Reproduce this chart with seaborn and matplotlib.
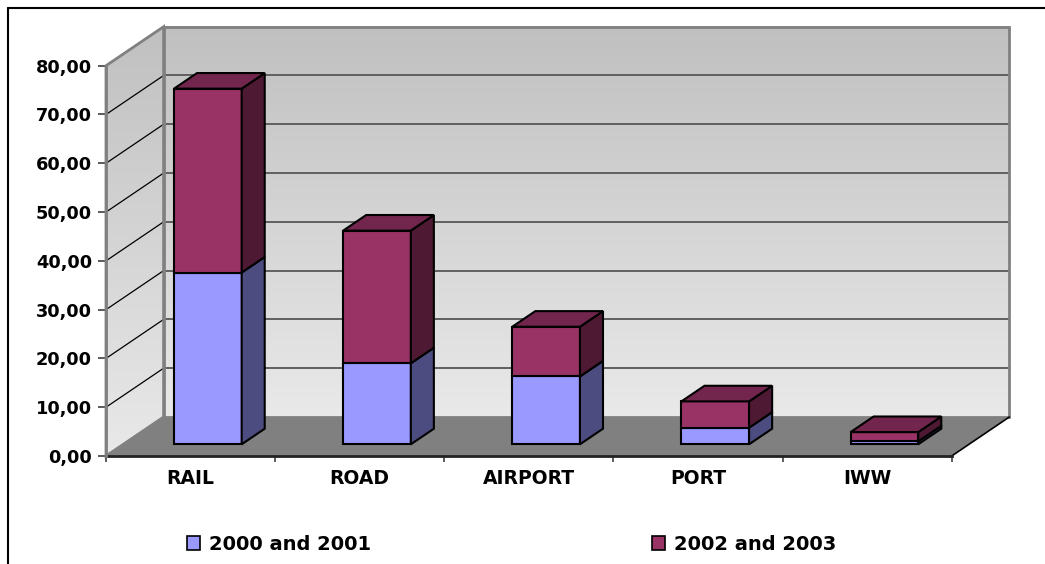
import numpy as np
import pandas as pd
import seaborn as sns
import matplotlib.pyplot as plt
import matplotlib.transforms as mtransforms
from matplotlib.patches import Polygon, Patch
from matplotlib.lines import Line2D
from matplotlib.colors import LinearSegmentedColormap

# data
categories = ["RAIL", "ROAD", "AIRPORT", "PORT", "IWW"]
years_2000_2001 = [35.2, 16.6, 13.9, 3.4, 0.6]
years_2002_2003 = [37.7, 27.2, 10.2, 5.4, 1.9]
series_labels = ["2000 and 2001", "2002 and 2003"]
y_ticks = [0, 10, 20, 30, 40, 50, 60, 70, 80]

df = pd.DataFrame({"mode": categories, "p1": years_2000_2001, "p2": years_2002_2003})

sns.set_style("white")
plt.rcParams["font.family"] = ["DejaVu Sans"]
plt.rcParams["font.weight"] = "bold"
plt.rcParams["text.color"] = "black"
plt.rcParams["xtick.labelcolor"] = "black"
plt.rcParams["ytick.labelcolor"] = "black"

W, H = 1045, 564
fig = plt.figure(figsize=(W / 100, H / 100), dpi=100)
ax = fig.add_axes([106 / W, 1 - 456 / H, (951.7 - 106) / W, (456 - 65.7) / H])
ax.patch.set_visible(False)

# 3d depth of the box in pixels, turned into data units
DX, DY = 57.6, 39.0
dxd = DX / (ax.bbox.width / len(categories))
dyd = DY / (ax.bbox.height / 80)
x_lo, x_hi = -0.5, len(categories) - 0.5


def p(x, y, d):
    return (x + d * dxd, y + d * dyd)


# walls with gradient
grad = np.linspace(0, 1, 256).reshape(-1, 1)
wall_cmap = LinearSegmentedColormap.from_list("wall", ["#e9e9e9", "#c0c0c0"])
back = ax.imshow(grad, extent=[x_lo + dxd, x_hi + dxd, dyd, 80 + dyd], origin="lower",
                 aspect="auto", cmap=wall_cmap, zorder=0)
back.set_clip_on(False)

left_poly = Polygon([p(x_lo, 0, 0), p(x_lo, 0, 1), p(x_lo, 80, 1), p(x_lo, 80, 0)],
                    closed=True, transform=ax.transData)
left = ax.imshow(grad, extent=[x_lo, x_lo + dxd, 0, 80 + dyd], origin="lower",
                 aspect="auto", cmap=wall_cmap, zorder=0)
left.set_clip_box(fig.bbox)
left.set_clip_path(left_poly)

# gridlines on back and side wall
for v in y_ticks[1:-1]:
    ax.plot([x_lo + dxd, x_hi + dxd], [v + dyd, v + dyd], color="#606060", lw=1.4,
            zorder=1, clip_on=False)
    ax.plot([x_lo, x_lo + dxd], [v, v + dyd], color="black", lw=0.9, zorder=1, clip_on=False)

# wall outlines
ax.add_patch(Polygon([p(x_lo, 0, 1), p(x_hi, 0, 1), p(x_hi, 80, 1), p(x_lo, 80, 1)],
                     closed=True, fill=False, edgecolor="#808080", lw=2, zorder=1, clip_on=False))
ax.add_patch(Polygon([p(x_lo, 0, 0), p(x_lo, 0, 1), p(x_lo, 80, 1), p(x_lo, 80, 0)],
                     closed=True, fill=False, edgecolor="#808080", lw=2, zorder=1, clip_on=False))

# floor
ax.add_patch(Polygon([p(x_lo, 0, 0), p(x_hi, 0, 0), p(x_hi, 0, 1), p(x_lo, 0, 1)],
                     closed=True, facecolor="#808080", edgecolor="none", zorder=1.5, clip_on=False))
ax.plot(*zip(p(x_hi, 0, 0), p(x_hi, 0, 1)), color="black", lw=1.2, zorder=1.6, clip_on=False)

# stacked bars
colors = ["#9999ff", "#993366"]
sides = ["#4c4c80", "#4d1933"]
tops = ["#7a7acc", "#73264d"]
sns.barplot(data=df, x="mode", y="p1", order=categories, color=colors[0], saturation=1,
            width=0.4, edgecolor="black", linewidth=1.5, zorder=4, ax=ax)
sns.barplot(data=df, x="mode", y="p2", order=categories, color=colors[1], saturation=1,
            bottom=years_2000_2001, width=0.4, edgecolor="black", linewidth=1.5, zorder=4, ax=ax)

d0, d1 = 0.3, 0.7
shift = mtransforms.ScaledTranslation(d0 * DX / fig.dpi, d0 * DY / fig.dpi, fig.dpi_scale_trans)
for k, cont in enumerate(ax.containers[:2]):
    for bar in cont:
        bar.set_transform(ax.transData + shift)
        x0, y0 = bar.get_x(), bar.get_y()
        x1, y1 = x0 + bar.get_width(), y0 + bar.get_height()
        ax.add_patch(Polygon([p(x1, y0, d0), p(x1, y0, d1), p(x1, y1, d1), p(x1, y1, d0)],
                             closed=True, facecolor=sides[k], edgecolor="black", lw=1.5,
                             zorder=4, clip_on=False))
        if k == 1:
            ax.add_patch(Polygon([p(x0, y1, d0), p(x1, y1, d0), p(x1, y1, d1), p(x0, y1, d1)],
                                 closed=True, facecolor=tops[k], edgecolor="black", lw=1.5,
                                 zorder=4, clip_on=False))

ax.set_xlim(x_lo, x_hi)
ax.set_ylim(0, 80)
ax.set_xlabel("")
ax.set_ylabel("")

# axes
ax.set_yticks(y_ticks)
ax.set_yticklabels([f"{v:.2f}".replace(".", ",") for v in y_ticks])
ax.tick_params(axis="y", direction="out", length=5.8, width=1.2, color="#404040",
               pad=4.3, labelsize=12.8, left=True)
ax.set_xticks(range(len(categories)))
ax.set_xticklabels(categories)
ax.set_xticks(np.arange(x_lo, x_hi + 1), minor=True)
ax.tick_params(axis="x", which="major", length=0, pad=9.5, labelsize=13.5)
ax.tick_params(axis="x", which="minor", direction="out", length=4.5, width=1.2,
               color="#404040", bottom=True)
for lab in ax.get_xticklabels() + ax.get_yticklabels():
    lab.set_fontweight("bold")
for s in ["top", "right"]:
    ax.spines[s].set_visible(False)
ax.spines["left"].set_color("#808080")
ax.spines["left"].set_linewidth(2)
ax.spines["bottom"].set_color("#222222")
ax.spines["bottom"].set_linewidth(2)
ax.spines["bottom"].set_zorder(2)

# legend, two entries spread apart
for lbl, col, xpos in zip(series_labels, colors, [186.7, 651.7]):
    fig.legend([Patch(facecolor=col, edgecolor="black", lw=1.2)], [lbl], loc="center left",
               bbox_to_anchor=(xpos / W, 1 - 544 / H), frameon=False, borderpad=0,
               borderaxespad=0, handlelength=0.7, handleheight=0.7, handletextpad=0.45,
               prop={"size": 14, "weight": "bold"})

# chart border (cut by the picture edge on the right and bottom)
fig.add_artist(Line2D([7.5 / W, 7.5 / W], [0, 1 - 8 / H], color="black", lw=1.5))
fig.add_artist(Line2D([7.5 / W, 1], [1 - 8 / H, 1 - 8 / H], color="black", lw=1.5))

fig.savefig("out.png", dpi=100)
